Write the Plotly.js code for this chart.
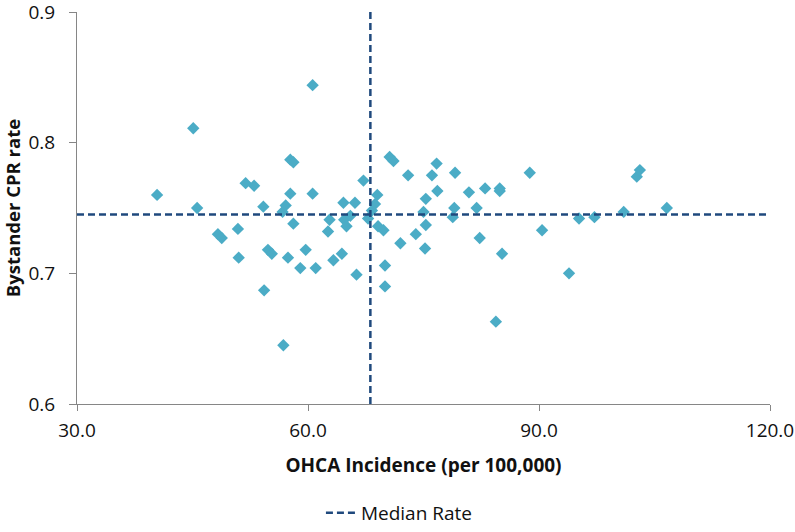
<!DOCTYPE html>
<html>
<head>
<meta charset="utf-8">
<script src="https://cdn.plot.ly/plotly-3.0.1.min.js"></script>
<style>html,body{margin:0;padding:0;background:#fff;}#chart{width:795px;height:532px;}</style>
</head>
<body>
<div id="chart"></div>
<script>
// OHCA incidence (per 100,000) and bystander CPR rate per region
const incidence = [40.4,45.1,45.6,48.3,48.8,50.9,51.0,51.9,53.0,54.2,54.3,54.8,55.3,56.7,56.8,57.1,57.4,57.7,58.1,57.7,58.1,59.0,59.7,60.6,60.6,61.0,62.6,62.8,63.3,64.4,64.6,64.7,65.0,65.5,66.1,66.3,67.2,67.8,68.3,68.7,69.0,69.1,69.8,70.0,70.0,70.6,71.1,72.0,73.0,74.0,75.0,75.2,75.3,75.3,76.1,76.7,76.8,78.8,79.0,79.1,80.9,81.9,82.3,83.0,84.4,84.9,84.9,85.2,88.8,90.4,93.9,95.2,97.2,101.0,102.7,103.1,106.6];
const cprRate = [0.760,0.811,0.750,0.730,0.727,0.734,0.712,0.769,0.767,0.751,0.687,0.718,0.715,0.747,0.645,0.752,0.712,0.787,0.785,0.761,0.738,0.704,0.718,0.844,0.761,0.704,0.732,0.741,0.710,0.715,0.754,0.741,0.736,0.744,0.754,0.699,0.771,0.742,0.748,0.753,0.760,0.736,0.733,0.706,0.690,0.789,0.786,0.723,0.775,0.730,0.747,0.719,0.737,0.757,0.775,0.784,0.763,0.743,0.750,0.777,0.762,0.750,0.727,0.765,0.663,0.765,0.763,0.715,0.777,0.733,0.700,0.742,0.743,0.747,0.774,0.779,0.750];
const medianIncidence = 68.1;
const medianRate = 0.745;
const xRange = [30, 120];
const yRange = [0.6, 0.9];
const xTicks = [30, 60, 90, 120];
const yTicks = [0.6, 0.7, 0.8, 0.9];

const lineColor = '#1F497D';
const traces = [
  {
    x: incidence, y: cprRate, type: 'scatter', mode: 'markers',
    marker: {symbol: 'diamond', size: 9.5, color: '#4BACC6'},
    showlegend: false, hoverinfo: 'x+y'
  },
  {
    x: xRange, y: [medianRate, medianRate], type: 'scatter', mode: 'lines',
    name: 'Median Rate',
    line: {color: lineColor, width: 2.5, dash: '7px,4px'}
  },
  {
    x: [medianIncidence, medianIncidence], y: yRange, type: 'scatter', mode: 'lines',
    showlegend: false,
    line: {color: lineColor, width: 2.5, dash: '7px,4px'}
  }
];

const axisFont = {family: 'Open Sans, sans-serif', size: 19, color: '#111'};
const layout = {
  width: 795, height: 532,
  margin: {l: 77, r: 25, t: 12, b: 128},
  paper_bgcolor: '#fff', plot_bgcolor: '#fff',
  showlegend: true,
  legend: {
    orientation: 'h', xref: 'paper', x: 0.352, xanchor: 'left',
    yref: 'container', y: 0.0, yanchor: 'bottom',
    font: {family: 'Open Sans, sans-serif', size: 19, color: '#111'}
  },
  xaxis: {
    range: xRange, tickvals: xTicks, tickformat: '.1f',
    showgrid: false, zeroline: false, showline: true, linecolor: '#868686', linewidth: 1,
    ticks: 'outside', ticklen: 6, tickcolor: '#868686', ticklabelstandoff: 3,
    tickfont: axisFont, automargin: false, ticklabeloverflow: 'allow',
    title: {text: '<b>OHCA Incidence (per 100,000)</b>', font: {family: 'Open Sans, sans-serif', size: 19, color: '#111'}, standoff: 16}
  },
  yaxis: {
    range: yRange, tickvals: yTicks, tickformat: '.1f',
    showgrid: false, zeroline: false, showline: true, linecolor: '#868686', linewidth: 1,
    ticks: 'outside', ticklen: 7, tickcolor: '#868686', ticklabelstandoff: 10,
    tickfont: axisFont, automargin: false, ticklabeloverflow: 'allow',
    title: {text: '<b>Bystander CPR rate</b>', font: {family: 'Open Sans, sans-serif', size: 18.5, color: '#111'}, standoff: 9}
  }
};

Plotly.newPlot('chart', traces, layout, {displayModeBar: false, staticPlot: true});
</script>
</body>
</html>
